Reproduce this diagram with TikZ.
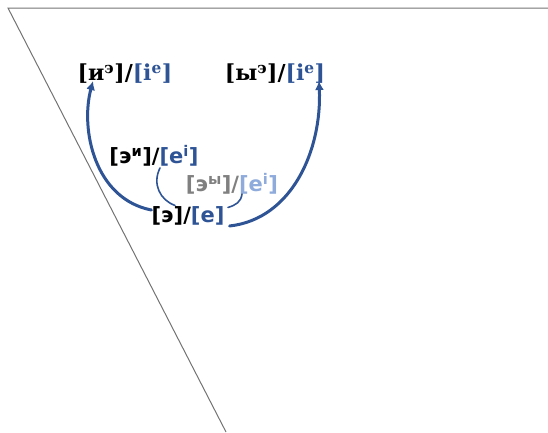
\documentclass[tikz,border=0pt]{standalone}
\usepackage{fontspec}
\usepackage{xcolor}
\usepackage{tikz}
\usetikzlibrary{arrows.meta, positioning}
\newfontfamily\labserif{DejaVu Serif}
\newfontfamily\labsans{DejaVu Sans}
\definecolor{myblue}{rgb}{0.18, 0.33, 0.59}
\definecolor{mylightblue}{rgb}{0.56, 0.67, 0.86}
\definecolor{mygray}{rgb}{0.50, 0.50, 0.50}
\definecolor{myline}{rgb}{0.45, 0.45, 0.45}
\tikzstyle{arc} = [myblue, line width=3pt, line cap=round, -{Latex[length=9pt, width=9pt]}]
\tikzstyle{link} = [myblue, line width=1.6pt, line cap=round]

\begin{document}
\begin{tikzpicture}[x=1pt, y=-1pt, lab/.style={inner sep=0pt, font=\labsans\bfseries\fontsize{21}{24}\selectfont}, toplab/.style={lab, font=\labserif\bfseries\fontsize{22}{25}\selectfont}]
    \useasboundingbox (0,0) rectangle (548,432);
    \draw[myline, line width=1pt] (548,8) -- (8,8) -- (226,432);
    \node[toplab] (ie) at (125,74) {[и\textsuperscript{э}]/\textcolor{myblue}{[i\textsuperscript{e}]}};
    \node[toplab] (ye) at (275,74) {[ы\textsuperscript{э}]/\textcolor{myblue}{[i\textsuperscript{e}]}};
    \node[lab] (ei) at (154,156) {[э\textsuperscript{и}]/\textcolor{myblue}{[e\textsuperscript{i}]}};
    \node[lab, mygray] (ey) at (232,184) {[э\textsuperscript{ы}]/\textcolor{mylightblue}{[e\textsuperscript{i}]}};
    \node[lab] (e) at (188,216) {[э]/\textcolor{myblue}{[e]}};
    \draw[arc] (e.west) ++(0,-6) .. controls (95,199) and (80,130) .. ([xshift=-32pt, yshift=3pt]ie.south);
    \draw[arc] (e.east) ++(5,10) .. controls (292,219) and (322,150) .. ([xshift=44pt, yshift=3pt]ye.south);
    \draw[link] ([xshift=6pt, yshift=-1pt]ei.south) .. controls (152,184) and (160,200) .. ([xshift=-13pt, yshift=1pt]e.north);
    \draw[link] ([xshift=40pt, yshift=-1pt]e.north) .. controls (236,205) and (241,202) .. ([xshift=10pt, yshift=1pt]ey.south);
\end{tikzpicture}
\end{document}
